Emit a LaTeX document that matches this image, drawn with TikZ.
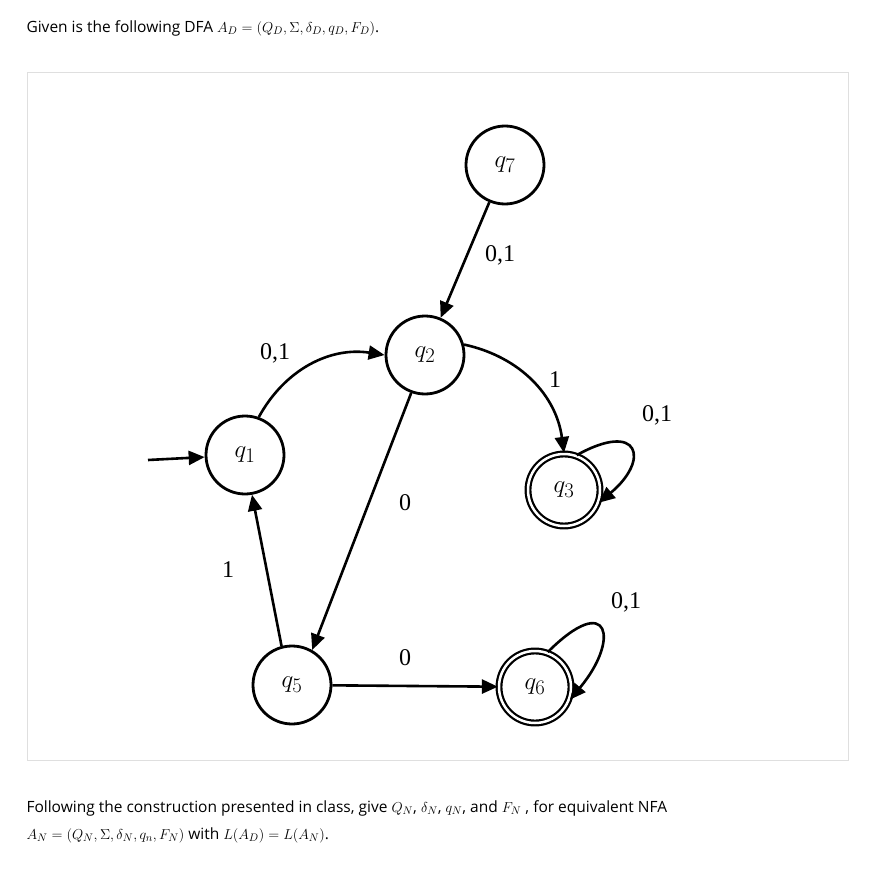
\documentclass[tikz,border=0pt]{standalone}
\usepackage{fontspec}
\setmainfont{Open Sans}
\newfontfamily\tms{Liberation Serif}
\usetikzlibrary{arrows.meta}
\begin{document}
\begin{tikzpicture}[x=1pt,y=-1pt,
  st/.style={circle,draw,line width=2.8pt,minimum size=78pt,inner sep=0pt,font=\fontsize{28}{30}\selectfont},
  acc/.style={st,double,double distance=2.5pt,line width=2.2pt,minimum size=72pt},
  ed/.style={line width=2.6pt,-{Triangle[length=16pt,width=14pt]}},
  lb/.style={font=\tms\fontsize{24}{26}\selectfont},
  tx/.style={anchor=west,font=\fontsize{15.5}{17}\selectfont}]
\useasboundingbox (0,0) rectangle (892,872);
\fill[white] (0,0) rectangle (892,872);
\draw[gray!25,line width=0.8pt] (27,72) rectangle (848,760);
\node[tx] (t1) at (23,28) {Given is the following DFA $A_D=(Q_D,\Sigma,\delta_D,q_D,F_D)$.};
\node[tx] (t2) at (23,808) {Following the construction presented in class, give $Q_N$, $\delta_N$, $q_N$, and $F_N$ , for equivalent NFA};
\node[tx] (t3) at (23,835) {$A_N=(Q_N,\Sigma,\delta_N,q_n,F_N)$ with $L(A_D)=L(A_N)$.};
\node[st] (q7) at (505,165) {$q_7$};
\node[st] (q2) at (425,355) {$q_2$};
\node[st] (q1) at (245,455) {$q_1$};
\node[acc] (q3) at (564,490) {$q_3$};
\node[st] (q5) at (292,685) {$q_5$};
\node[acc] (q6) at (535,687) {$q_6$};
\coordinate (s) at (148,460);
\draw[ed] (s) -- (q1);
\draw[ed] (q7) -- (q2);
\draw[ed] (q1.70) to[bend left=35] (q2.west);
\draw[ed] (q2.15) to[bend left=35] (q3.north);
\draw[ed] (q3.70) .. controls (640,420) and (650,460) .. (q3.-20);
\draw[ed] (q6.70) .. controls (610,590) and (620,640) .. (q6.-20);
\draw[ed] (q2.250) -- (q5.60);
\draw[ed] (q5.105) -- (q1.280);
\draw[ed] (q5) -- (q6);
\node[lb] (l1) at (500,255) {0,1};
\node[lb] (l2) at (275,353) {0,1};
\node[lb] (l3) at (555,380) {1};
\node[lb] (l4) at (657,415) {0,1};
\node[lb] (l5) at (405,503) {0};
\node[lb] (l6) at (228,570) {1};
\node[lb] (l7) at (405,658) {0};
\node[lb] (l8) at (626,602) {0,1};
\end{tikzpicture}
\end{document}
